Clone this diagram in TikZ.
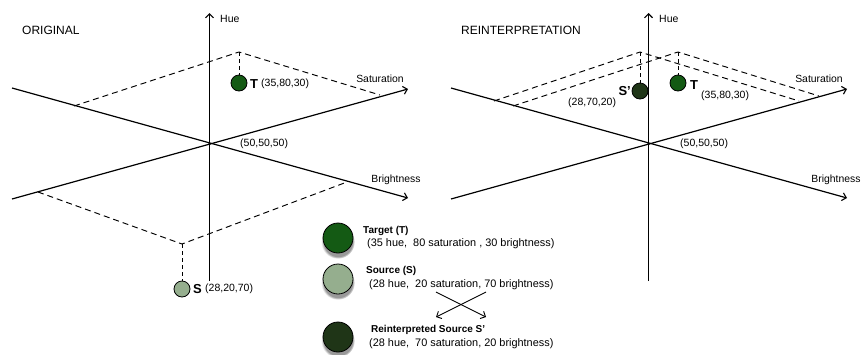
\documentclass[tikz,border=0pt]{standalone}
\usepackage{fontspec}
\setmainfont{Liberation Sans}
\usetikzlibrary{arrows.meta,shadows}
\definecolor{tgreen}{HTML}{145A14}
\definecolor{sgreen}{HTML}{95AE8E}
\definecolor{rgreen}{HTML}{1F3517}
\tikzset{
  axis/.style={line width=1.2pt, -{Straight Barb[length=4pt,width=8pt,line width=1.1pt]}},
  guide/.style={line width=0.95pt, dash pattern=on 6pt off 4pt},
  droplink/.style={line width=0.9pt, dash pattern=on 4pt off 3pt},
  dot/.style={circle, draw=black, line width=0.8pt, minimum size=16pt, inner sep=0pt},
  bigdot/.style={circle, draw=black, line width=0.8pt, minimum size=30pt, inner sep=0pt,
    circular drop shadow={shadow xshift=0pt, shadow yshift=-3.5pt, shadow scale=1.12, opacity=0.8}},
  lbl/.style={inner sep=0pt, anchor=west, font=\fontsize{10.5}{12}\selectfont},
  legdesc/.style={inner sep=0pt, anchor=west, font=\fontsize{10.9}{12}\selectfont},
  axlbl/.style={inner sep=0pt, font=\fontsize{10.4}{12}\selectfont},
  title/.style={inner sep=0pt, anchor=west, font=\fontsize{12}{14}\selectfont},
  bigletter/.style={inner sep=0pt, anchor=west, font=\fontsize{13}{15}\bfseries\selectfont},
  legtitle/.style={inner sep=0pt, anchor=west, font=\fontsize{10}{12}\bfseries\selectfont},
  cross/.style={line width=0.9pt, -{Straight Barb[length=4pt,width=8pt,line width=0.9pt]}}
}
\begin{document}
\begin{tikzpicture}[x=1pt,y=-1pt]
\useasboundingbox (0,0) rectangle (862,354);

% ================= LEFT: ORIGINAL =================
\coordinate (LHb) at (209.5,281);
\coordinate (LHt) at (209.5,13);
\coordinate (LSa) at (12,199);
\coordinate (LSb) at (408,89);
\coordinate (LBa) at (12,88);
\coordinate (LBb) at (408,198);
\draw[axis] (LHb) -- (LHt);
\draw[axis] (LSa) -- (LSb);
\draw[axis] (LBa) -- (LBb);
\fill (209.5,144) circle (1.3pt);

\node[title] (orig) at (22,30) {ORIGINAL};
\node[lbl] (lhue) at (220,19) {Hue};
\node[axlbl] (lsat) at (380,79) {Saturation};
\node[axlbl] (lbri) at (396,180) {Brightness};
\node[lbl] (lctr) at (240,144) {(50,50,50)};

% target parallelogram
\coordinate (LT1) at (74,106);
\coordinate (LTa) at (239,52);
\coordinate (LT2) at (380,95);
\draw[guide] (LT1) -- (LTa) -- (LT2);
\node[dot, fill=tgreen] (LT) at (239,83) {};
\draw[droplink] (LTa) -- (LT.north);
\node[bigletter] (LTl) at (250,84) {T};
\node[lbl] (LTc) at (261,84) {(35,80,30)};

% source parallelogram
\coordinate (LS1) at (38,192);
\coordinate (LSap) at (182,244);
\coordinate (LS2) at (347,182);
\draw[guide] (LS1) -- (LSap) -- (LS2);
\node[dot, fill=sgreen] (LS) at (182,289) {};
\draw[droplink] (LSap) -- (LS.north);
\node[bigletter] (LSl) at (193,289) {S};
\node[lbl] (LSc) at (205,289) {(28,20,70)};

% ================= RIGHT: REINTERPRETATION =================
\coordinate (RHb) at (648.5,281);
\coordinate (RHt) at (648.5,13);
\coordinate (RSa) at (451,199);
\coordinate (RSb) at (847,89);
\coordinate (RBa) at (451,88);
\coordinate (RBb) at (847,198);
\draw[axis] (RHb) -- (RHt);
\draw[axis] (RSa) -- (RSb);
\draw[axis] (RBa) -- (RBb);
\fill (648.5,144) circle (1.3pt);

\node[title] (reint) at (461,30) {REINTERPRETATION};
\node[lbl] (rhue) at (659,19) {Hue};
\node[axlbl] (rsat) at (819,79) {Saturation};
\node[axlbl] (rbri) at (836,180) {Brightness};
\node[lbl] (rctr) at (680,144) {(50,50,50)};

% S' parallelogram
\coordinate (RP1) at (494,101);
\coordinate (RPa) at (640,52);
\coordinate (RP2) at (799,101);
\draw[guide] (RP1) -- (RPa) -- (RP2);
% T parallelogram
\coordinate (RT1) at (513,106);
\coordinate (RTa) at (678,52);
\coordinate (RT2) at (819,96);
\draw[guide] (RT1) -- (RTa) -- (RT2);

\node[dot, fill=rgreen] (RP) at (640,91) {};
\draw[droplink] (RPa) -- (RP.north);
\node[bigletter, anchor=east] (RPl) at (631,91) {S'};
\node[lbl] (RPc) at (568,103) {(28,70,20)};

\node[dot, fill=tgreen] (RT) at (678,83) {};
\draw[droplink] (RTa) -- (RT.north);
\node[bigletter] (RTl) at (690,85) {T};
\node[lbl] (RTc) at (701,96) {(35,80,30)};

% ================= LEGEND =================
\node[bigdot, fill=tgreen] (gT) at (338,238) {};
\node[legtitle] (gTt) at (363,231) {Target (T)};
\node[legdesc] (gTd) at (367,244) {(35 hue,\ \ 80 saturation , 30 brightness)};

\node[bigdot, fill=sgreen] (gS) at (338,279) {};
\node[legtitle] (gSt) at (366,271) {Source (S)};
\node[legdesc] (gSd) at (369,285) {(28 hue,\ \ 20 saturation, 70 brightness)};

\node[bigdot, fill=rgreen] (gR) at (338,337) {};
\node[legtitle] (gRt) at (371,330) {Reinterpreted Source S'};
\node[legdesc] (gRd) at (369,344) {(28 hue,\ \ 70 saturation, 20 brightness)};

\coordinate (c1) at (436,292);
\coordinate (c2) at (486,292);
\coordinate (c3) at (436,317);
\coordinate (c4) at (486,317);
\draw[cross] (c1) -- (c4);
\draw[cross] (c2) -- (c3);
\end{tikzpicture}
\end{document}
